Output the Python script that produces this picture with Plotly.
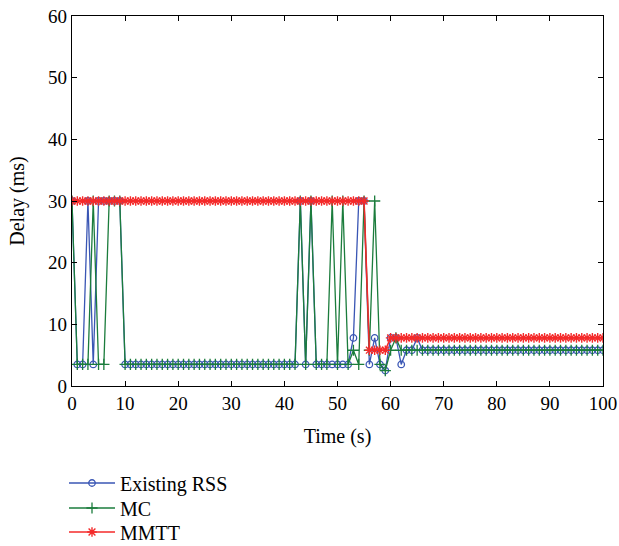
import plotly.graph_objects as go

time_s = list(range(0, 101))

existing_rss = [
    30, 3.5, 3.5, 30, 3.5, 30, 30, 30, 30, 30,
    3.5, 3.5, 3.5, 3.5, 3.5, 3.5, 3.5, 3.5, 3.5, 3.5,
    3.5, 3.5, 3.5, 3.5, 3.5, 3.5, 3.5, 3.5, 3.5, 3.5,
    3.5, 3.5, 3.5, 3.5, 3.5, 3.5, 3.5, 3.5, 3.5, 3.5,
    3.5, 3.5, 3.5, 30, 3.5, 30, 3.5, 3.5, 3.5, 3.5,
    3.5, 3.5, 3.5, 7.8, 30, 30, 3.5, 7.8, 3.5, 2.5,
    7.8, 7.8, 3.5, 5.8, 5.8, 7.8, 5.8, 5.8, 5.8, 5.8,
    5.8, 5.8, 5.8, 5.8, 5.8, 5.8, 5.8, 5.8, 5.8, 5.8,
    5.8, 5.8, 5.8, 5.8, 5.8, 5.8, 5.8, 5.8, 5.8, 5.8,
    5.8, 5.8, 5.8, 5.8, 5.8, 5.8, 5.8, 5.8, 5.8, 5.8,
    5.8,
]

mc = [
    30, 3.5, 3.5, 3.5, 30, 3.5, 3.5, 30, 30, 30,
    3.5, 3.5, 3.5, 3.5, 3.5, 3.5, 3.5, 3.5, 3.5, 3.5,
    3.5, 3.5, 3.5, 3.5, 3.5, 3.5, 3.5, 3.5, 3.5, 3.5,
    3.5, 3.5, 3.5, 3.5, 3.5, 3.5, 3.5, 3.5, 3.5, 3.5,
    3.5, 3.5, 3.5, 30, 3.5, 30, 3.5, 3.5, 3.5, 30,
    3.5, 30, 3.5, 5.8, 3.5, 30, 5.8, 30, 3.5, 2.5,
    5.8, 7.8, 5.8, 5.8, 5.8, 5.8, 5.8, 5.8, 5.8, 5.8,
    5.8, 5.8, 5.8, 5.8, 5.8, 5.8, 5.8, 5.8, 5.8, 5.8,
    5.8, 5.8, 5.8, 5.8, 5.8, 5.8, 5.8, 5.8, 5.8, 5.8,
    5.8, 5.8, 5.8, 5.8, 5.8, 5.8, 5.8, 5.8, 5.8, 5.8,
    5.8,
]

mmtt = [
    30, 30, 30, 30, 30, 30, 30, 30, 30, 30,
    30, 30, 30, 30, 30, 30, 30, 30, 30, 30,
    30, 30, 30, 30, 30, 30, 30, 30, 30, 30,
    30, 30, 30, 30, 30, 30, 30, 30, 30, 30,
    30, 30, 30, 30, 30, 30, 30, 30, 30, 30,
    30, 30, 30, 30, 30, 30, 5.8, 5.8, 5.8, 5.8,
    7.8, 7.8, 7.8, 7.8, 7.8, 7.8, 7.8, 7.8, 7.8, 7.8,
    7.8, 7.8, 7.8, 7.8, 7.8, 7.8, 7.8, 7.8, 7.8, 7.8,
    7.8, 7.8, 7.8, 7.8, 7.8, 7.8, 7.8, 7.8, 7.8, 7.8,
    7.8, 7.8, 7.8, 7.8, 7.8, 7.8, 7.8, 7.8, 7.8, 7.8,
    7.8,
]

x_ticks = [0, 10, 20, 30, 40, 50, 60, 70, 80, 90, 100]
y_ticks = [0, 10, 20, 30, 40, 50, 60]

BLUE = "#3a56b4"
GREEN = "#1b7c3c"
RED = "#f42a2a"
FONT = "Liberation Serif"

W, H = 619, 546
ML, MR, MT, MB = 72, 16, 16, 160
PLOT_W = W - ML - MR
PLOT_H = H - MT - MB

fig = go.Figure()
fig.add_trace(go.Scatter(
    x=time_s, y=existing_rss, name="Existing RSS", mode="lines+markers",
    legend="legend",
    line=dict(color=BLUE, width=1.3),
    marker=dict(symbol="circle-open", size=6.5, color=BLUE, line=dict(width=1.3, color=BLUE)),
))
fig.add_trace(go.Scatter(
    x=time_s, y=mc, name="MC", mode="lines+markers",
    legend="legend2",
    line=dict(color=GREEN, width=1.3),
    marker=dict(symbol="cross-thin-open", size=8, color=GREEN, line=dict(width=1.3, color=GREEN)),
))
fig.add_trace(go.Scatter(
    x=time_s, y=mmtt, name="MMTT", mode="lines+markers",
    legend="legend3",
    line=dict(color=RED, width=1.6),
    marker=dict(symbol="asterisk-open", size=8, color=RED, line=dict(width=1.4, color=RED)),
))

axis_common = dict(
    showgrid=False, zeroline=False, showline=True, linecolor="black", linewidth=1.2,
    mirror="ticks", ticks="inside", ticklen=5, tickcolor="black", tickwidth=1,
    tickfont=dict(family=FONT, size=19, color="black"),
    ticklabeloverflow="allow",
    automargin=False,
)

fig.update_xaxes(
    range=[0, 100], tickvals=x_ticks,
    title=dict(text="Time (s)", font=dict(family=FONT, size=20, color="black"), standoff=16),
    **axis_common,
)
fig.update_yaxes(
    range=[0, 60], tickvals=y_ticks,
    title=dict(text="Delay (ms)", font=dict(family=FONT, size=20, color="black"), standoff=18),
    **axis_common,
)

def legend_box(center_y_px):
    return dict(
        x=(64 - ML) / PLOT_W, xanchor="left",
        y=-(center_y_px - (MT + PLOT_H)) / PLOT_H, yanchor="middle",
        font=dict(family=FONT, size=20, color="black"),
        bgcolor="rgba(0,0,0,0)", itemwidth=46,
    )

fig.update_layout(
    width=W, height=H,
    margin=dict(l=ML, r=MR, t=MT, b=MB, autoexpand=False),
    paper_bgcolor="white", plot_bgcolor="white",
    font=dict(family=FONT, size=20, color="black"),
    showlegend=True,
    legend=legend_box(483),
    legend2=legend_box(508),
    legend3=legend_box(532),
)

fig.write_html(
    "out.html",
    config={"displayModeBar": False},
    post_script="document.body.style.margin='0';document.body.style.overflow='hidden';",
)
